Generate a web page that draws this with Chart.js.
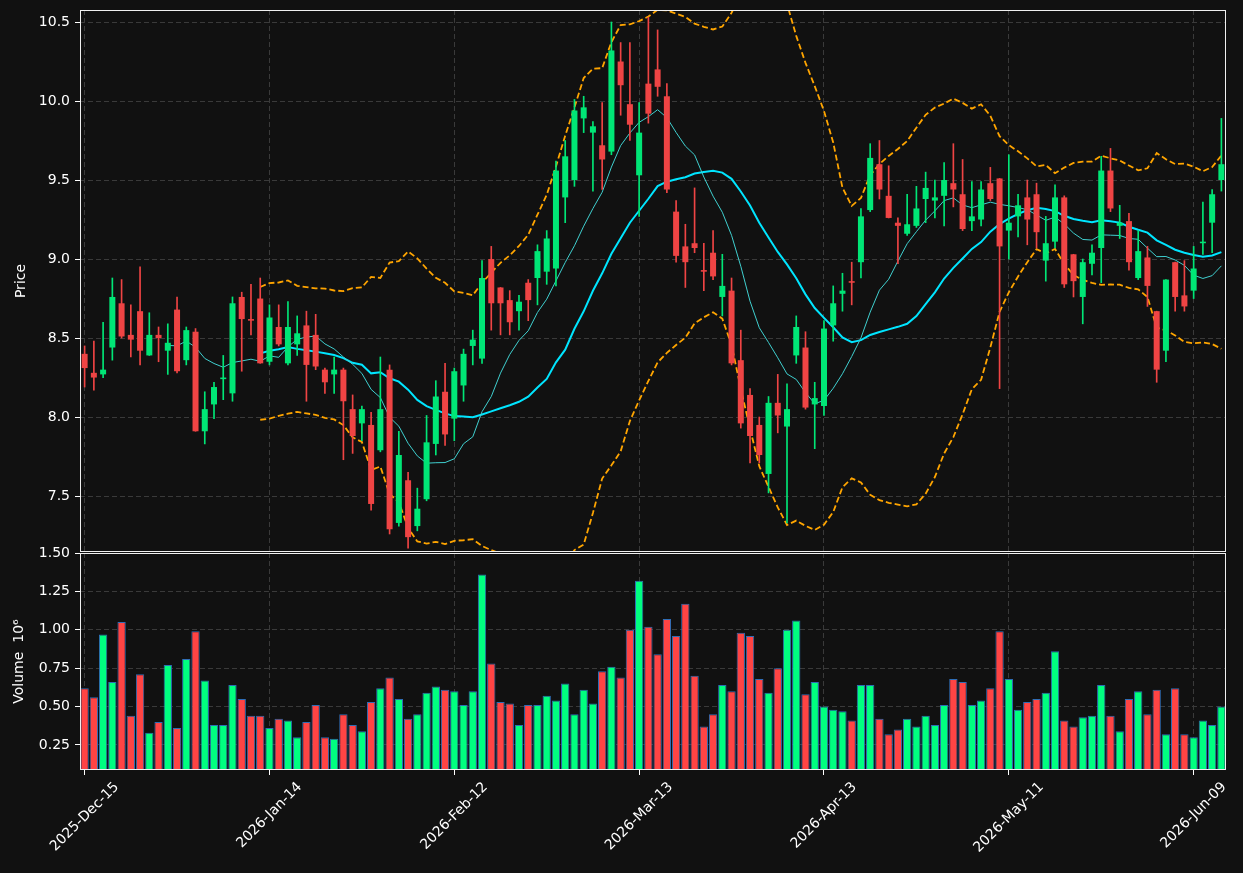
<!DOCTYPE html>
<html>
<head>
<meta charset="utf-8">
<title>Daily candles with moving averages and Bollinger bands</title>
<script src="https://cdn.jsdelivr.net/npm/chart.js@4.4.1/dist/chart.umd.min.js"></script>
<style>
  html, body { margin: 0; padding: 0; background: #111111; }
  #wrap { position: relative; width: 1243px; height: 873px; overflow: hidden; }
  #priceChart { position: absolute; left: 0; top: 0; }
  #volChart { position: absolute; left: 0; top: 530px; }
</style>
</head>
<body>
<div id="wrap">
  <canvas id="priceChart" width="1243" height="552"></canvas>
  <canvas id="volChart" width="1243" height="343"></canvas>
</div>
<script>
// ---- data ----
const tickLabels = ['2025-Dec-15','2026-Jan-14','2026-Feb-12','2026-Mar-13','2026-Apr-13','2026-May-11','2026-Jun-09'];
const tickStep = 20;

const opens = [
  8.40, 8.28, 8.27, 8.44, 8.72, 8.52, 8.67, 8.39, 8.52, 8.42,
  8.68, 8.36, 8.54, 7.91, 8.08, 8.24, 8.15, 8.76, 8.62, 8.75,
  8.35, 8.57, 8.34, 8.46, 8.58, 8.52, 8.30, 8.27, 8.30, 8.05,
  7.96, 7.95, 7.79, 8.30, 7.33, 7.60, 7.31, 7.48, 7.83, 8.16,
  7.99, 8.20, 8.45, 8.37, 9.00, 8.82, 8.74, 8.67, 8.85, 8.88,
  8.92, 8.94, 9.39, 9.50, 9.89, 9.80, 9.72, 9.68, 10.25, 9.98,
  9.53, 10.11, 10.20, 10.03, 9.30, 9.08, 9.10, 8.93, 9.04, 8.76,
  8.80, 8.36, 8.14, 7.95, 7.64, 8.09, 7.94, 8.39, 8.44, 8.08,
  8.07, 8.58, 8.78, 8.86, 8.98, 9.31, 9.60, 9.40, 9.23, 9.16,
  9.21, 9.38, 9.37, 9.40, 9.48, 9.41, 9.24, 9.25, 9.48, 9.51,
  9.18, 9.27, 9.39, 9.41, 8.99, 9.11, 9.39, 9.03, 8.76, 8.97,
  9.07, 9.56, 9.21, 9.24, 8.88, 9.01, 8.67, 8.42, 8.98, 8.77,
  8.80, 9.10, 9.23, 9.50
];
const highs = [
  8.45, 8.48, 8.60, 8.88, 8.87, 8.71, 8.95, 8.66, 8.57, 8.59,
  8.76, 8.57, 8.56, 8.16, 8.22, 8.39, 8.76, 8.79, 8.84, 8.88,
  8.71, 8.71, 8.73, 8.64, 8.67, 8.65, 8.31, 8.38, 8.31, 8.14,
  8.07, 8.03, 8.38, 8.33, 7.91, 7.65, 7.55, 8.01, 8.23, 8.34,
  8.31, 8.43, 8.55, 8.99, 9.08, 8.82, 8.80, 8.77, 8.87, 9.09,
  9.18, 9.62, 9.75, 10.01, 10.03, 9.87, 9.99, 10.50, 10.37, 10.37,
  9.99, 10.53, 10.45, 10.11, 9.37, 9.22, 9.45, 9.10, 9.18, 9.03,
  8.88, 8.55, 8.18, 8.00, 8.13, 8.27, 8.21, 8.64, 8.54, 8.22,
  8.61, 8.83, 8.91, 8.98, 9.32, 9.73, 9.75, 9.59, 9.26, 9.41,
  9.46, 9.55, 9.50, 9.61, 9.73, 9.63, 9.49, 9.49, 9.58, 9.51,
  9.66, 9.41, 9.50, 9.48, 9.27, 9.47, 9.40, 9.03, 9.00, 9.09,
  9.65, 9.70, 9.34, 9.29, 9.18, 9.08, 8.67, 8.87, 8.98, 8.99,
  9.08, 9.36, 9.44, 9.89
];
const lows = [
  8.19, 8.17, 8.25, 8.36, 8.50, 8.38, 8.33, 8.39, 8.35, 8.27,
  8.28, 8.33, 7.91, 7.83, 7.99, 8.11, 8.10, 8.29, 8.52, 8.34,
  8.33, 8.45, 8.33, 8.39, 8.10, 8.30, 8.15, 8.15, 7.73, 7.77,
  7.85, 7.41, 7.78, 7.26, 7.31, 7.17, 7.28, 7.47, 7.76, 7.82,
  7.85, 8.10, 8.33, 8.34, 8.55, 8.52, 8.52, 8.55, 8.61, 8.71,
  8.84, 8.83, 9.23, 9.46, 9.80, 9.43, 9.44, 9.66, 9.91, 9.75,
  9.27, 9.86, 10.03, 9.42, 8.98, 8.82, 9.04, 8.80, 8.87, 8.64,
  8.33, 7.93, 7.71, 7.71, 7.52, 7.90, 7.33, 8.34, 8.05, 7.80,
  8.01, 8.48, 8.67, 8.71, 8.88, 9.30, 9.38, 9.26, 8.97, 9.15,
  9.20, 9.23, 9.26, 9.21, 9.33, 9.18, 9.18, 9.21, 9.37, 8.18,
  9.00, 9.14, 9.09, 9.07, 8.86, 9.07, 8.82, 8.76, 8.59, 8.90,
  8.85, 9.30, 9.13, 8.93, 8.87, 8.70, 8.22, 8.35, 8.67, 8.67,
  8.75, 9.03, 9.04, 9.43
];
const closes = [
  8.31, 8.25, 8.30, 8.76, 8.51, 8.49, 8.42, 8.52, 8.50, 8.47,
  8.29, 8.55, 7.91, 8.05, 8.19, 8.25, 8.72, 8.62, 8.61, 8.34,
  8.63, 8.46, 8.57, 8.53, 8.33, 8.32, 8.22, 8.30, 8.10, 7.88,
  8.05, 7.45, 8.05, 7.29, 7.76, 7.24, 7.42, 7.84, 8.13, 7.89,
  8.29, 8.40, 8.49, 8.88, 8.72, 8.72, 8.60, 8.73, 8.74, 9.05,
  9.13, 9.56, 9.65, 9.94, 9.96, 9.84, 9.63, 10.32, 10.10, 9.85,
  9.80, 9.92, 10.09, 9.44, 9.02, 8.98, 9.07, 8.92, 8.89, 8.83,
  8.34, 7.96, 7.88, 7.76, 8.09, 8.01, 8.05, 8.57, 8.06, 8.12,
  8.56, 8.72, 8.80, 8.85, 9.27, 9.64, 9.44, 9.26, 9.21, 9.22,
  9.32, 9.45, 9.39, 9.50, 9.44, 9.19, 9.27, 9.44, 9.38, 9.08,
  9.23, 9.34, 9.25, 9.17, 9.10, 9.39, 8.84, 8.86, 8.98, 9.04,
  9.56, 9.32, 9.23, 8.98, 9.05, 8.83, 8.30, 8.87, 8.76, 8.70,
  8.94, 9.11, 9.41, 9.60
];
// volume in millions
const volumes = [
  0.62, 0.56, 0.97, 0.66, 1.05, 0.44, 0.71, 0.33, 0.40, 0.77,
  0.36, 0.81, 0.99, 0.67, 0.38, 0.38, 0.64, 0.55, 0.44, 0.44,
  0.36, 0.42, 0.41, 0.30, 0.40, 0.51, 0.30, 0.29, 0.45, 0.38,
  0.34, 0.53, 0.62, 0.69, 0.55, 0.42, 0.45, 0.59, 0.63, 0.61,
  0.60, 0.51, 0.60, 1.36, 0.78, 0.53, 0.52, 0.38, 0.51, 0.51,
  0.57, 0.54, 0.65, 0.45, 0.61, 0.52, 0.73, 0.76, 0.69, 1.00,
  1.32, 1.02, 0.84, 1.07, 0.96, 1.17, 0.70, 0.37, 0.45, 0.64,
  0.60, 0.98, 0.96, 0.68, 0.59, 0.75, 1.00, 1.06, 0.58, 0.66,
  0.50, 0.48, 0.47, 0.41, 0.64, 0.64, 0.42, 0.32, 0.35, 0.42,
  0.37, 0.44, 0.38, 0.51, 0.68, 0.66, 0.51, 0.54, 0.62, 0.99,
  0.68, 0.48, 0.53, 0.55, 0.59, 0.86, 0.41, 0.37, 0.43, 0.44,
  0.64, 0.44, 0.34, 0.55, 0.60, 0.45, 0.61, 0.32, 0.62, 0.32,
  0.30, 0.41, 0.38, 0.50
];

// ---- indicators derived from the closes ----
function sma(vals, n) {
  return vals.map((v, i) => {
    if (i < n - 1) return null;
    return vals.slice(i - n + 1, i + 1).reduce((a, b) => a + b, 0) / n;
  });
}
function bollinger(vals, n, k) {
  const mid = sma(vals, n);
  return mid.map((m, i) => {
    if (m === null) return null;
    const win = vals.slice(i - n + 1, i + 1);
    const sd = Math.sqrt(win.reduce((a, b) => a + (b - m) * (b - m), 0) / n);
    return m + k * sd;
  });
}
const mav10 = sma(closes, 10);
const mav20 = sma(closes, 20);
const bbUpper = bollinger(closes, 20, 2);
const bbLower = bollinger(closes, 20, -2);

const days = closes.map((c, i) => i);
const bodies = closes.map((c, i) => [opens[i], c]);
const wicks = closes.map((c, i) => [lows[i], highs[i]]);

const upColor = '#00e676';
const downColor = '#ef4444';
const candleColors = closes.map((c, i) => c >= opens[i] ? upColor : downColor);
const volColors = closes.map((c, i) => c >= opens[i] ? '#00ff80' : '#ff4444');

const textColor = '#ffffff';
const gridColor = '#3a3a3a';
Chart.defaults.font.family = '"DejaVu Sans", sans-serif';
Chart.defaults.font.size = 14;
Chart.defaults.color = textColor;

const xGridColor = ctx => ctx.index % tickStep === 0 ? gridColor : 'rgba(0,0,0,0)';
const xTickColor = ctx => ctx.index % tickStep === 0 ? textColor : 'rgba(0,0,0,0)';

// keep the plot box where we put it (no extra room for edge labels)
function fixY(s) {
  s.width = 80;
  s.paddingTop = 0;
  s.paddingBottom = 0;
}

// white frame round each panel
const framePlugin = {
  id: 'frame',
  afterDraw(chart) {
    const { ctx, chartArea: a } = chart;
    ctx.save();
    ctx.strokeStyle = '#f0f0f0';
    ctx.lineWidth = 1;
    ctx.strokeRect(Math.round(a.left) + 0.5, Math.round(a.top) + 0.5, Math.round(a.right - a.left) - 1, Math.round(a.bottom - a.top) - 1);
    ctx.restore();
  }
};

// date labels at 45 degrees, centred under their tick
const dateLabelPlugin = {
  id: 'dateLabels',
  afterDraw(chart) {
    const { ctx, scales: { x } } = chart;
    ctx.save();
    ctx.font = '14px "DejaVu Sans", sans-serif';
    ctx.fillStyle = textColor;
    ctx.textAlign = 'center';
    ctx.textBaseline = 'middle';
    tickLabels.forEach((lab, k) => {
      const px = x.getPixelForTick(k * tickStep);
      const w = ctx.measureText(lab).width;
      const cy = x.top + 10 + (w + 14) * Math.SQRT1_2 / 2;
      ctx.save();
      ctx.translate(px, cy);
      ctx.rotate(-Math.PI / 4);
      ctx.fillText(lab, 0, 0);
      ctx.restore();
    });
    ctx.restore();
  }
};

// Price panel
new Chart(document.getElementById('priceChart'), {
  type: 'bar',
  data: {
    labels: days,
    datasets: [
      { data: bodies, backgroundColor: candleColors, grouped: false, barPercentage: 0.65, categoryPercentage: 1, minBarLength: 1.5 },
      { data: wicks, backgroundColor: candleColors, grouped: false, barThickness: 1 },
      { type: 'line', data: mav10, borderColor: '#40d0d0', borderWidth: 1, pointRadius: 0, tension: 0 },
      { type: 'line', data: mav20, borderColor: '#00e5ff', borderWidth: 2, pointRadius: 0, tension: 0 },
      { type: 'line', data: bbUpper, borderColor: '#ffa500', borderWidth: 1.8, borderDash: [6, 3], pointRadius: 0, tension: 0 },
      { type: 'line', data: bbLower, borderColor: '#ffa500', borderWidth: 1.8, borderDash: [6, 3], pointRadius: 0, tension: 0 }
    ]
  },
  options: {
    responsive: false, animation: false, devicePixelRatio: 1,
    layout: { padding: { left: 0, right: 17, top: 10, bottom: 0 } },
    plugins: { legend: { display: false }, tooltip: { enabled: false } },
    scales: {
      x: {
        offset: true,
        grid: { offset: false, color: xGridColor, drawTicks: false },
        border: { display: false, dash: [5, 3] },
        ticks: { display: false, autoSkip: false },
        afterFit: s => { s.height = 0; s.paddingLeft = 0; s.paddingRight = 0; }
      },
      y: {
        min: 7.146, max: 10.576,
        grid: { color: gridColor, tickColor: textColor, tickLength: 5 },
        border: { display: false, dash: [5, 3] },
        ticks: { stepSize: 0.5, includeBounds: false, padding: 5, callback: v => v.toFixed(1) },
        title: { display: true, text: 'Price', color: textColor, padding: { top: 13, bottom: 0 } },
        afterFit: fixY
      }
    }
  },
  plugins: [framePlugin]
});

// Volume panel
new Chart(document.getElementById('volChart'), {
  type: 'bar',
  data: {
    labels: days,
    datasets: [
      { data: volumes, backgroundColor: volColors, borderColor: '#2f6db5', borderWidth: 1, barPercentage: 0.9, categoryPercentage: 1 }
    ]
  },
  options: {
    responsive: false, animation: false, devicePixelRatio: 1,
    layout: { padding: { left: 0, right: 17, top: 23, bottom: 0 } },
    plugins: { legend: { display: false }, tooltip: { enabled: false } },
    scales: {
      x: {
        offset: true,
        grid: { offset: false, color: xGridColor, tickColor: xTickColor, tickLength: 5 },
        border: { display: false, dash: [5, 3] },
        ticks: { display: false, autoSkip: false },
        afterFit: s => { s.height = 103; s.paddingLeft = 0; s.paddingRight = 0; }
      },
      y: {
        min: 0.087, max: 1.5,
        grid: { color: gridColor, tickColor: textColor, tickLength: 5 },
        border: { display: false, dash: [5, 3] },
        ticks: { stepSize: 0.25, includeBounds: false, padding: 5, callback: v => v.toFixed(2) },
        title: { display: true, text: 'Volume  10\u2076', color: textColor, padding: { top: 11, bottom: 0 } },
        afterFit: fixY
      }
    }
  },
  plugins: [framePlugin, dateLabelPlugin]
});
</script>
</body>
</html>
